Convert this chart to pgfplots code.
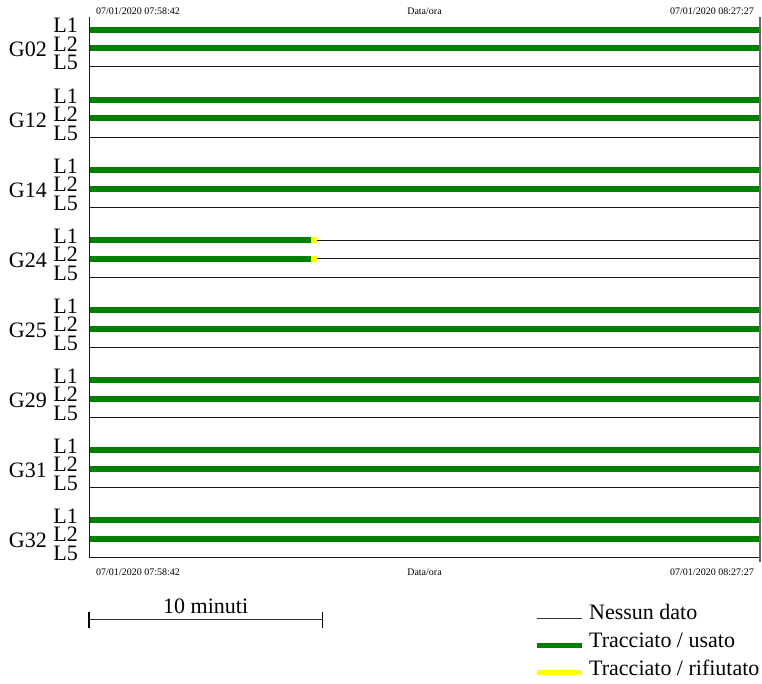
\documentclass[border=0pt]{standalone}
\usepackage{fontspec}
\setmainfont{Liberation Serif}
\usepackage{pgfplots}
\pgfplotsset{compat=1.18}
\definecolor{tgreen}{RGB}{0,128,0}
\definecolor{tyellow}{RGB}{255,255,0}
\definecolor{tline}{RGB}{25,25,25}
\tikzset{
  big/.style={font=\fontsize{22bp}{22bp}\selectfont, inner sep=0pt},
  small/.style={font=\fontsize{10bp}{10bp}\selectfont, inner sep=0pt},
}
\begin{document}
\begin{tikzpicture}
\begin{axis}[
  width=762bp, height=684bp, scale only axis,
  xmin=-228.80, xmax=1730.14, ymin=0, ymax=684, y dir=reverse,
  hide axis, clip=false,
  unbounded coords=jump,
  every axis plot/.append style={no markers},
]
% thin "Nessun dato" rows (L5 of every group, and the rest of G24 L1/L2)
\addplot[tline, line width=1bp] coordinates {
 (0,67) (1725,67) (nan,nan)
 (0,137) (1725,137) (nan,nan)
 (0,207) (1725,207) (nan,nan)
 (0,277) (1725,277) (nan,nan)
 (0,347) (1725,347) (nan,nan)
 (0,417) (1725,417) (nan,nan)
 (0,487) (1725,487) (nan,nan)
 (0,557) (1725,557) (nan,nan)
 (586,240) (1725,240) (nan,nan)
 (586,258.5) (1725,258.5)
};
% green "Tracciato / usato"
\addplot[tgreen, line width=6bp] coordinates {
 (0,30) (1725,30) (nan,nan) (0,48.5) (1725,48.5) (nan,nan)
 (0,100) (1725,100) (nan,nan) (0,118.5) (1725,118.5) (nan,nan)
 (0,170) (1725,170) (nan,nan) (0,188.5) (1725,188.5) (nan,nan)
 (0,240) (570,240) (nan,nan) (0,258.5) (570,258.5) (nan,nan)
 (0,310) (1725,310) (nan,nan) (0,328.5) (1725,328.5) (nan,nan)
 (0,380) (1725,380) (nan,nan) (0,398.5) (1725,398.5) (nan,nan)
 (0,450) (1725,450) (nan,nan) (0,468.5) (1725,468.5) (nan,nan)
 (0,520) (1725,520) (nan,nan) (0,538.5) (1725,538.5)
};
% yellow "Tracciato / rifiutato"
\addplot[tyellow, line width=6bp] coordinates {
 (570,240) (586,240) (nan,nan) (570,258.5) (586,258.5)
};
% frame lines
\addplot[tline, line width=1bp] coordinates {(0,17) (0,557)};
\addplot[black!60, line width=2bp] coordinates {(1725,17) (1725,562)};

% group labels
\node[big, anchor=base east] at (axis cs:-107.97,57) {G02};
\node[big, anchor=base east] at (axis cs:-107.97,127) {G12};
\node[big, anchor=base east] at (axis cs:-107.97,197) {G14};
\node[big, anchor=base east] at (axis cs:-107.97,267) {G24};
\node[big, anchor=base east] at (axis cs:-107.97,337) {G25};
\node[big, anchor=base east] at (axis cs:-107.97,407) {G29};
\node[big, anchor=base east] at (axis cs:-107.97,477) {G31};
\node[big, anchor=base east] at (axis cs:-107.97,547) {G32};
% line labels
\node[big, anchor=base east] at (axis cs:-28.28,33) {L1};
\node[big, anchor=base east] at (axis cs:-28.28,51.5) {L2};
\node[big, anchor=base east] at (axis cs:-28.28,70) {L5};
\node[big, anchor=base east] at (axis cs:-28.28,103) {L1};
\node[big, anchor=base east] at (axis cs:-28.28,121.5) {L2};
\node[big, anchor=base east] at (axis cs:-28.28,140) {L5};
\node[big, anchor=base east] at (axis cs:-28.28,173) {L1};
\node[big, anchor=base east] at (axis cs:-28.28,191.5) {L2};
\node[big, anchor=base east] at (axis cs:-28.28,210) {L5};
\node[big, anchor=base east] at (axis cs:-28.28,243) {L1};
\node[big, anchor=base east] at (axis cs:-28.28,261.5) {L2};
\node[big, anchor=base east] at (axis cs:-28.28,280) {L5};
\node[big, anchor=base east] at (axis cs:-28.28,313) {L1};
\node[big, anchor=base east] at (axis cs:-28.28,331.5) {L2};
\node[big, anchor=base east] at (axis cs:-28.28,350) {L5};
\node[big, anchor=base east] at (axis cs:-28.28,383) {L1};
\node[big, anchor=base east] at (axis cs:-28.28,401.5) {L2};
\node[big, anchor=base east] at (axis cs:-28.28,420) {L5};
\node[big, anchor=base east] at (axis cs:-28.28,453) {L1};
\node[big, anchor=base east] at (axis cs:-28.28,471.5) {L2};
\node[big, anchor=base east] at (axis cs:-28.28,490) {L5};
\node[big, anchor=base east] at (axis cs:-28.28,523) {L1};
\node[big, anchor=base east] at (axis cs:-28.28,541.5) {L2};
\node[big, anchor=base east] at (axis cs:-28.28,560) {L5};

% date labels
\node[small, anchor=base west] at (axis cs:18.0,15) {07/01/2020 07:58:42};
\node[small, anchor=base] at (axis cs:862.5,15) {Data/ora};
\node[small, anchor=base east] at (axis cs:1709.6,15) {07/01/2020 08:27:27};
\node[small, anchor=base west] at (axis cs:18.0,575) {07/01/2020 07:58:42};
\node[small, anchor=base] at (axis cs:862.5,575) {Data/ora};
\node[small, anchor=base east] at (axis cs:1709.6,575) {07/01/2020 08:27:27};

% scale bar
\addplot[black!80, line width=1.2bp] coordinates {(0,619.5) (600,619.5)};
\addplot[black, line width=1.3bp] coordinates {(0,612) (0,628)};
\addplot[black, line width=1.3bp] coordinates {(600,612) (600,628)};
\node[big, anchor=base] at (axis cs:300,613) {10 minuti};

% legend
\addplot[black!80, line width=1.2bp] coordinates {(1151.7,618.5) (1267.4,618.5)};
\addplot[tgreen, line width=5bp] coordinates {(1151.7,645) (1267.4,645)};
\addplot[tyellow, line width=5bp] coordinates {(1151.7,672) (1267.4,672)};
\node[big, anchor=base west] at (axis cs:1285.4,619) {Nessun dato};
\node[big, anchor=base west] at (axis cs:1285.4,647) {Tracciato / usato};
\node[big, anchor=base west] at (axis cs:1285.4,675) {Tracciato / rifiutato};
\end{axis}
\pgfresetboundingbox
\path (current axis.south west) rectangle (current axis.north east);
\end{tikzpicture}
\end{document}
